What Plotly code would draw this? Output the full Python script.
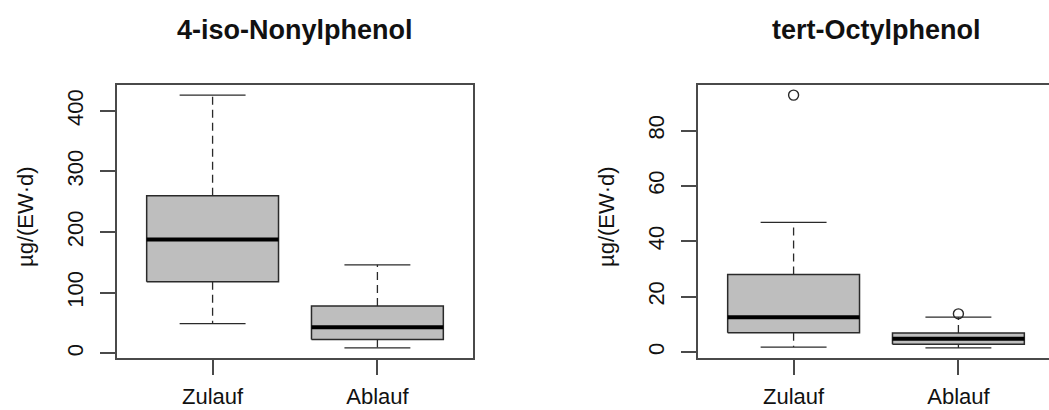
import plotly.graph_objects as go

W, H = 1049, 410

categories = ["Zulauf", "Ablauf"]

# 4-iso-Nonylphenol, µg/(EW·d)
nonyl_lower = [49, 9]
nonyl_q1 = [118, 23]
nonyl_median = [188, 43]
nonyl_q3 = [260, 78]
nonyl_upper = [426, 146]
nonyl_outliers = [[], []]

# tert-Octylphenol, µg/(EW·d)
octyl_lower = [1.8, 1.5]
octyl_q1 = [7.0, 2.8]
octyl_median = [12.6, 4.8]
octyl_q3 = [28.0, 6.9]
octyl_upper = [46.8, 12.6]
octyl_outliers = [[92.8], [13.8]]

titles = ["4-iso-Nonylphenol", "tert-Octylphenol"]
y_title = "µg/(EW·d)"

FONT = "Liberation Sans, Arial, sans-serif"
LINE = "#2a2a2a"
FRAME = "#4a4a4a"
FILL = "#bebebe"


def px_x(p):
    return p / W


def px_y(p):
    return 1 - p / H


def add_boxes(fig, lower, q1, med, q3, upper, outliers, xa, ya):
    pos = list(range(1, len(categories) + 1))
    half, cap = 0.4, 0.2
    wx, wy, sx, sy = [], [], [], []
    for p, lo, a, b, hi in zip(pos, lower, q1, q3, upper):
        wx += [p, p, None, p, p, None]
        wy += [b, hi, None, a, lo, None]
        sx += [p - cap, p + cap, None, p - cap, p + cap, None]
        sy += [hi, hi, None, lo, lo, None]
    fig.add_trace(go.Scatter(x=wx, y=wy, mode="lines", xaxis=xa, yaxis=ya,
                             line=dict(color=LINE, width=1.3, dash="8px,5px"),
                             hoverinfo="skip", showlegend=False))
    fig.add_trace(go.Scatter(x=sx, y=sy, mode="lines", xaxis=xa, yaxis=ya,
                             line=dict(color=LINE, width=1.3),
                             hoverinfo="skip", showlegend=False))
    for p, a, b in zip(pos, q1, q3):
        fig.add_trace(go.Scatter(
            x=[p - half, p + half, p + half, p - half, p - half],
            y=[a, a, b, b, a], mode="lines", fill="toself", fillcolor=FILL,
            xaxis=xa, yaxis=ya, line=dict(color=LINE, width=1.5),
            hoverinfo="skip", showlegend=False))
    mx, my = [], []
    for p, m in zip(pos, med):
        mx += [p - half, p + half, None]
        my += [m, m, None]
    fig.add_trace(go.Scatter(x=mx, y=my, mode="lines", xaxis=xa, yaxis=ya,
                             line=dict(color="#000000", width=4),
                             hoverinfo="skip", showlegend=False))
    ox, oy = [], []
    for p, vals in zip(pos, outliers):
        for v in vals:
            ox.append(p)
            oy.append(v)
    if ox:
        fig.add_trace(go.Scatter(x=ox, y=oy, mode="markers", xaxis=xa, yaxis=ya,
                                 marker=dict(symbol="circle-open", size=10,
                                             color=LINE, line=dict(width=1.4)),
                                 hoverinfo="skip", showlegend=False))
    vals = list(lower) + list(upper) + [v for o in outliers for v in o]
    lo, hi = min(vals), max(vals)
    pad = 0.04 * (hi - lo)
    return [lo - pad, hi + pad]


fig = go.Figure()
yr1 = add_boxes(fig, nonyl_lower, nonyl_q1, nonyl_median, nonyl_q3,
                nonyl_upper, nonyl_outliers, "x", "y")
yr2 = add_boxes(fig, octyl_lower, octyl_q1, octyl_median, octyl_q3,
                octyl_upper, octyl_outliers, "x2", "y2")

left1, right1 = 117, 473
left2, right2 = 698, W
top, bottom = 85, 358
xr1 = [0.42, 2.58]
xr2 = [0.42, 0.42 + 2.16 * (right2 - left2) / (right1 - left1)]

xcommon = dict(tickvals=[1, 2], ticktext=categories, ticks="outside",
               ticklen=15, tickwidth=1.5, tickcolor=FRAME, showline=True,
               linecolor=FRAME, linewidth=1.5, mirror=True, showgrid=False,
               zeroline=False, ticklabelstandoff=3, automargin=False,
               tickfont=dict(family=FONT, size=22, color="#111111"))
ycommon = dict(ticks="outside", ticklen=15, tickwidth=1.5, tickcolor=FRAME,
               showline=True, linecolor=FRAME, linewidth=1.5, showgrid=False,
               zeroline=False, tickangle=-90, ticklabelstandoff=8,
               automargin=False,
               tickfont=dict(family=FONT, size=22, color="#111111"))

fig.update_layout(
    width=W, height=H, margin=dict(l=0, r=0, t=0, b=0, pad=0),
    paper_bgcolor="white", plot_bgcolor="white", showlegend=False,
    xaxis=dict(domain=[px_x(left1), px_x(right1)], range=xr1, anchor="y", **xcommon),
    yaxis=dict(domain=[px_y(bottom), px_y(top)], range=yr1, anchor="x",
               dtick=100, mirror=True, **ycommon),
    xaxis2=dict(domain=[px_x(left2), 1.0], range=xr2, anchor="y2", **xcommon),
    yaxis2=dict(domain=[px_y(bottom), px_y(top)], range=yr2, anchor="x2",
                dtick=20, mirror=False, **ycommon),
)

centers = [(left1 + right1) / 2, left2 + (right1 - left1) / 2]
lefts = [left1, left2]
for c, lft, t in zip(centers, lefts, titles):
    fig.add_annotation(text=f"<b>{t}</b>", x=px_x(c), y=px_y(30), xref="paper",
                       yref="paper", xanchor="center", yanchor="middle",
                       showarrow=False,
                       font=dict(family=FONT, size=27, color="#111111"))
    fig.add_annotation(text=y_title, x=px_x(lft - 92), y=px_y(217),
                       xref="paper", yref="paper", xanchor="center",
                       yanchor="middle", textangle=-90, showarrow=False,
                       font=dict(family=FONT, size=22, color="#111111"))

fig.write_html("out.html")
